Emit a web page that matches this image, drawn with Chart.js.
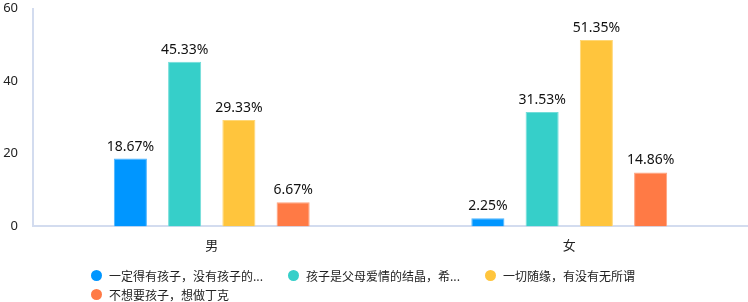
<!DOCTYPE html>
<html>
<head>
<meta charset="utf-8">
<script src="https://cdn.jsdelivr.net/npm/chart.js@4"></script>
<style>
  html, body { margin: 0; padding: 0; background: #fff; }
  #wrap { position: relative; width: 748px; height: 302px; }
  #legend {
    position: absolute; left: 91px; top: 266px; width: 600px;
    display: flex; flex-wrap: wrap;
    font-family: "Noto Sans CJK SC", sans-serif; font-size: 12px; color: #222;
  }
  .item { width: 197px; height: 19px; display: flex; align-items: center; white-space: nowrap; }
  .dot { width: 11px; height: 11px; border-radius: 50%; margin-right: 7px; flex: none; }
</style>
</head>
<body>
<div id="wrap">
  <canvas id="chart_main" width="748" height="302"></canvas>
  <div id="legend"></div>
</div>
<script>
const categories = ['男', '女'];
const series_names = ['一定得有孩子，没有孩子的...', '孩子是父母爱情的结晶，希...', '一切随缘，有没有无所谓', '不想要孩子，想做丁克'];
const must_have = [18.67, 2.25];
const love_fruit = [45.33, 31.53];
const let_it_be = [29.33, 51.35];
const dink = [6.67, 14.86];
const y_ticks = [0, 20, 40, 60];

const colors = ['#0096ff', '#36cfc9', '#ffc53d', '#ff7a45'];
const borders = ['#4db5ff', '#72ddd9', '#ffd777', '#ffa27d'];
const all_data = [must_have, love_fruit, let_it_be, dink];

const valueLabels = {
    id: 'valueLabels',
    afterDatasetsDraw(chart) {
        const ctx = chart.ctx;
        ctx.save();
        ctx.font = '14px "Noto Sans", sans-serif';
        ctx.fillStyle = '#111';
        ctx.textAlign = 'center';
        ctx.textBaseline = 'alphabetic';
        chart.data.datasets.forEach(function (ds, i) {
            chart.getDatasetMeta(i).data.forEach(function (bar, j) {
                ctx.fillText(ds.data[j].toFixed(2) + '%', bar.x, bar.y - 8);
            });
        });
        ctx.restore();
    }
};

const ctx = document.getElementById('chart_main').getContext('2d');
const chart = new Chart(ctx, {
    type: 'bar',
    data: {
        labels: categories,
        datasets: all_data.map(function (d, i) {
            return {
                label: series_names[i],
                data: d,
                backgroundColor: colors[i],
                borderColor: borders[i],
                borderWidth: 1,
                categoryPercentage: 0.607,
                barPercentage: 0.61
            };
        })
    },
    options: {
        responsive: false,
        animation: false,
        layout: { padding: { left: 2, right: 0, top: 0, bottom: 38 } },
        plugins: {
            legend: { display: false },
            tooltip: { enabled: false }
        },
        scales: {
            x: {
                grid: { display: false, drawTicks: false },
                border: { color: '#d3dcef', width: 2 },
                ticks: { color: '#222', padding: 11, font: { size: 13, family: '"Noto Sans CJK SC", sans-serif' } }
            },
            y: {
                min: 0,
                max: 60,
                grid: { display: false, drawTicks: false },
                border: { color: '#d3dcef', width: 2 },
                afterBuildTicks: function (axis) {
                    axis.ticks = y_ticks.map(function (v) { return { value: v }; });
                },
                // chart.js counts tick padding twice when sizing, fix the box by hand
                afterFit: function (axis) {
                    axis.width = 31;
                    axis.paddingTop = 8.5;
                },
                ticks: { color: '#222', padding: 15, font: { size: 13, family: '"Noto Sans", sans-serif' } }
            }
        }
    },
    plugins: [valueLabels]
});

// legend, laid out like the original (fixed width items, rows aligned left)
const legend = document.getElementById('legend');
chart.data.datasets.forEach(function (ds) {
    const item = document.createElement('div');
    item.className = 'item';
    const dot = document.createElement('span');
    dot.className = 'dot';
    dot.style.background = ds.backgroundColor;
    const txt = document.createElement('span');
    txt.textContent = ds.label;
    item.appendChild(dot);
    item.appendChild(txt);
    legend.appendChild(item);
});
</script>
</body>
</html>
